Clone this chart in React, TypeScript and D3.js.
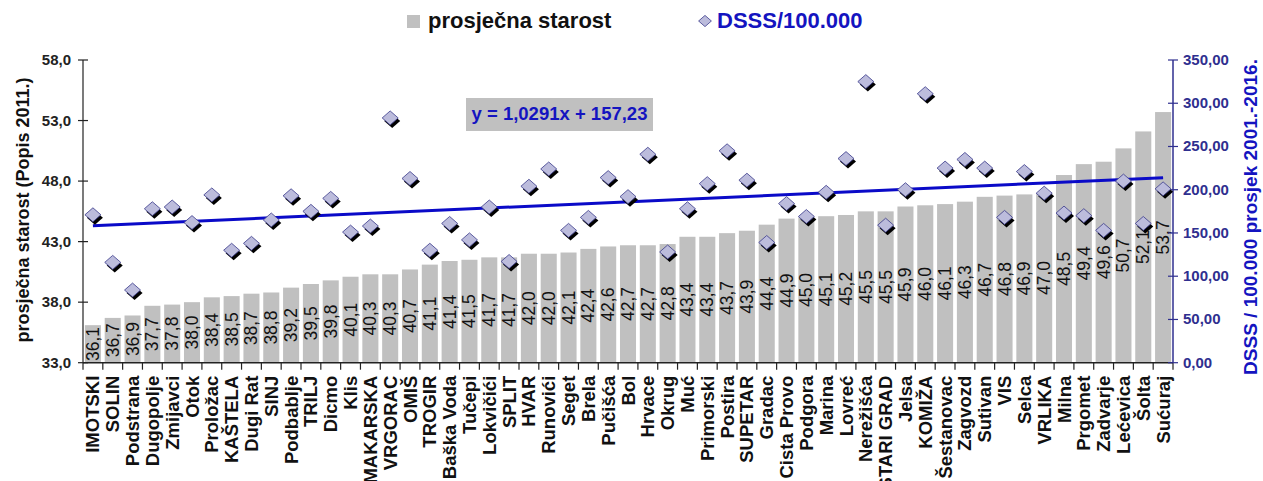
import React from "react";
import * as d3 from "d3";

const municipalities = [
  "IMOTSKI", "SOLIN", "Podstrana", "Dugopolje", "Zmijavci", "Otok", "Proložac", "KAŠTELA", "Dugi Rat", "SINJ",
  "Podbablje", "TRILJ", "Dicmo", "Klis", "MAKARSKA", "VRGORAC", "OMIŠ", "TROGIR", "Baška Voda", "Tučepi",
  "Lokvičići", "SPLIT", "HVAR", "Runovići", "Seget", "Brela", "Pučišća", "Bol", "Hrvace", "Okrug",
  "Muć", "Primorski", "Postira", "SUPETAR", "Gradac", "Cista Provo", "Podgora", "Marina", "Lovreć", "Nerežišća",
  "STARI GRAD", "Jelsa", "KOMIŽA", "Šestanovac", "Zagvozd", "Sutivan", "VIS", "Selca", "VRLIKA", "Milna",
  "Prgomet", "Zadvarje", "Lećevica", "Šolta", "Sućuraj",
];

const avgAge = [
  36.1, 36.7, 36.9, 37.7, 37.8, 38.0, 38.4, 38.5, 38.7, 38.8,
  39.2, 39.5, 39.8, 40.1, 40.3, 40.3, 40.7, 41.1, 41.4, 41.5,
  41.7, 41.7, 42.0, 42.0, 42.1, 42.4, 42.6, 42.7, 42.7, 42.8,
  43.4, 43.4, 43.7, 43.9, 44.4, 44.9, 45.0, 45.1, 45.2, 45.5,
  45.5, 45.9, 46.0, 46.1, 46.3, 46.7, 46.8, 46.9, 47.0, 48.5,
  49.4, 49.6, 50.7, 52.1, 53.7,
];

const dsss = [
  171, 116, 84, 178, 180, 162, 194, 130, 138, 165,
  193, 175, 190, 151, 158, 283, 213, 130, 161, 142,
  180, 117, 204, 224, 153, 168, 214, 192, 241, 128,
  178, 207, 245, 211, 139, 184, 169, 197, 236, 325,
  159, 200, 311, 225, 235, 225, 168, 221, 196, 173,
  170, 153, 210, 161, 201,
];

const leftTicks = [33, 38, 43, 48, 53, 58];
const rightTicks = [0, 50, 100, 150, 200, 250, 300, 350];
const trendSlope = 1.0291;
const trendIntercept = 157.23;
const trendLabel = "y = 1,0291x + 157,23";
const legendBar = "prosječna starost";
const legendPoint = "DSSS/100.000";
const leftTitle = "prosječna starost (Popis 2011.)";
const rightTitle = "DSSS / 100.000 prosjek 2001.-2016.";

const W = 1263;
const H = 481;
const X0 = 83;
const X1 = 1173;
const YT = 60;
const YB = 362.7;

const fmt1 = (v: number) => v.toFixed(1).replace(".", ",");
const fmt2 = (v: number) => v.toFixed(2).replace(".", ",");

export default function App() {
  const x = d3
    .scaleBand<string>()
    .domain(municipalities)
    .range([X0, X1])
    .paddingInner(0.19)
    .paddingOuter(0.095);
  const step = x.step();
  const bw = x.bandwidth();
  const cx = (i: number) => (x(municipalities[i]) as number) + bw / 2;
  const yL = d3.scaleLinear().domain([33, 58]).range([YB, YT]);
  const yR = d3.scaleLinear().domain([0, 350]).range([YB, YT]);

  const font = "Arial, 'Liberation Sans', sans-serif";
  const navy = "#2f2f8f";
  const blue = "#1414c0";

  const diamond = (px: number, py: number, key: string | number, s = 1, shadow = true) => {
    const hw = 8 * s;
    const hh = 7 * s;
    const pts = (ox: number, oy: number) =>
      `${px + ox},${py - hh + oy} ${px + hw + ox},${py + oy} ${px + ox},${py + hh + oy} ${px - hw + ox},${py + oy}`;
    return (
      <g key={key}>
        {shadow && <polygon points={pts(2 * s, 3 * s)} fill="#000000" />}
        <polygon points={pts(0, 0)} fill="#bcbcdc" stroke="#3a3a8a" strokeWidth={0.8} />
      </g>
    );
  };

  const n = municipalities.length;
  const trendPts: [number, number][] = [1, n].map((k) => [cx(k - 1), yR(trendSlope * k + trendIntercept)]);
  const line = d3.line();

  return (
    <svg
      width={W}
      height={H}
      style={{ position: "absolute", left: 0, top: 0, background: "#ffffff" }}
      fontFamily={font}
    >
      <rect x={0} y={0} width={W} height={H} fill="#ffffff" />

      {/* legend */}
      <rect x={407} y={15} width={13} height={13} fill="#c0c0c0" />
      <text x={428} y={28} fontSize={22} fontWeight="bold" fill="#111">
        {legendBar}
      </text>
      {diamond(705, 21, "leg", 0.8, false)}
      <text x={717} y={28} fontSize={22} fontWeight="bold" fill={blue}>
        {legendPoint}
      </text>

      {/* bars */}
      {avgAge.map((v, i) => (
        <rect
          key={"b" + i}
          x={x(municipalities[i])}
          y={yL(v)}
          width={bw}
          height={YB - yL(v)}
          fill="#c0c0c0"
        />
      ))}

      {/* data labels */}
      {avgAge.map((v, i) => {
        const my = (yL(v) + YB) / 2;
        return (
          <text
            key={"l" + i}
            transform={`translate(${cx(i) + 6},${my}) rotate(-90)`}
            textAnchor="middle"
            fontSize={17.5}
            fill="#111"
          >
            {fmt1(v)}
          </text>
        );
      })}

      {/* axes */}
      <line x1={X0} x2={X0} y1={YT} y2={YB} stroke="#222" strokeWidth={1.2} />
      <line x1={X1} x2={X1} y1={YT} y2={YB} stroke={navy} strokeWidth={1.5} />
      <line x1={X0} x2={X1} y1={YB} y2={YB} stroke="#222" strokeWidth={1.5} />
      {d3.range(n + 1).map((k) => (
        <line
          key={"t" + k}
          x1={X0 + k * step}
          x2={X0 + k * step}
          y1={YB}
          y2={YB + 7}
          stroke="#222"
          strokeWidth={1.2}
        />
      ))}
      {leftTicks.map((t) => (
        <g key={"lt" + t}>
          <line x1={X0 - 5} x2={X0 + 5} y1={yL(t)} y2={yL(t)} stroke="#222" strokeWidth={1.2} />
          <text x={71} y={yL(t) + 5} textAnchor="end" fontSize={15} fontWeight="bold" fill="#222">
            {fmt1(t)}
          </text>
        </g>
      ))}
      {rightTicks.map((t) => (
        <g key={"rt" + t}>
          <line x1={X1 - 5} x2={X1 + 5} y1={yR(t)} y2={yR(t)} stroke={navy} strokeWidth={1.2} />
          <text x={1183} y={yR(t) + 5} textAnchor="start" fontSize={15} fontWeight="bold" fill={navy}>
            {fmt2(t)}
          </text>
        </g>
      ))}

      {/* x labels */}
      {municipalities.map((m, i) => (
        <text
          key={"x" + i}
          transform={`translate(${cx(i) + 6.5},${YB + 13}) rotate(-90)`}
          textAnchor="end"
          fontSize={18.5}
          fontWeight="bold"
          fill="#111"
        >
          {m}
        </text>
      ))}

      {/* axis titles */}
      <text
        transform={`translate(29,210) rotate(-90)`}
        textAnchor="middle"
        fontSize={18}
        fontWeight="bold"
        fill="#111"
      >
        {leftTitle}
      </text>
      <text
        transform={`translate(1257,217) rotate(-90)`}
        textAnchor="middle"
        fontSize={19}
        fontWeight="bold"
        fill={blue}
      >
        {rightTitle}
      </text>

      {/* trend line */}
      <path d={line(trendPts) || ""} stroke="#0a0ac8" strokeWidth={3} fill="none" />

      {/* points */}
      {dsss.map((v, i) => diamond(cx(i), yR(v), "d" + i))}

      {/* trend label */}
      <rect x={466} y={98} width={187} height={33} fill="#c0c0c0" />
      <text x={559.5} y={120} textAnchor="middle" fontSize={18.5} fontWeight="bold" fill={blue}>
        {trendLabel}
      </text>
    </svg>
  );
}
